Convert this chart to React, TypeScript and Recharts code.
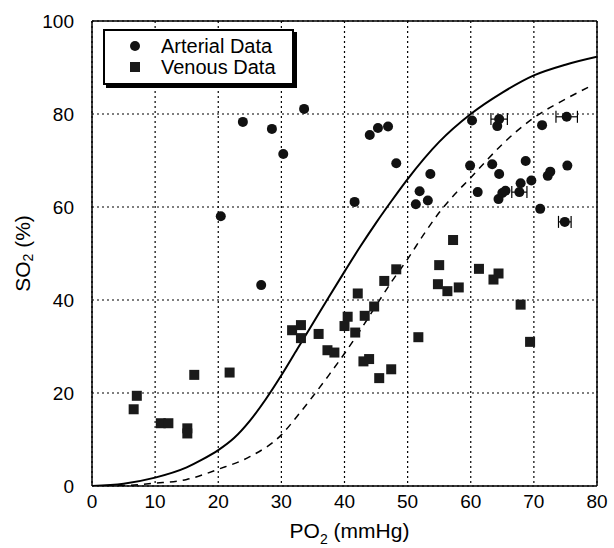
import React from "react";
import {
  ComposedChart,
  Scatter,
  Line,
  XAxis,
  YAxis,
  CartesianGrid,
  ReferenceLine,
  ErrorBar,
  Label,
} from "recharts";

const FONT = '"Liberation Sans", Arial, Helvetica, sans-serif';

// arterial samples (PO2 mmHg, SO2 %)
const arterialPO2 = [
  20.4, 23.9, 26.8, 28.5, 30.3, 33.6, 41.6, 44.0, 45.3, 46.9, 48.2, 51.3,
  51.9, 53.2, 53.6, 59.9, 60.2, 61.1, 63.4, 64.2, 64.5, 64.5, 64.4, 65.0,
  65.5, 67.7, 67.9, 68.7, 69.6, 71.0, 71.3, 72.2, 72.6, 74.9, 75.2, 75.3,
];
const arterialSO2 = [
  58.0, 78.3, 43.2, 76.8, 71.4, 81.1, 61.1, 75.5, 77.0, 77.3, 69.4, 60.6,
  63.4, 61.4, 67.1, 68.9, 78.6, 63.2, 69.2, 77.4, 78.9, 67.1, 61.7, 63.0,
  63.5, 63.2, 65.1, 69.9, 65.7, 59.6, 77.6, 66.7, 67.6, 56.8, 79.4, 68.9,
];
// horizontal error (mmHg), only a few points have one
const arterialErr = [
  null, null, null, null, null, null, null, null, null, null, null, null,
  null, null, null, null, null, null, null, null, 1.3, null, null, null,
  null, 1.2, null, null, null, null, null, null, null, 1.0, 1.7, null,
];

// venous samples
const venousPO2 = [
  6.6, 7.1, 10.9, 12.1, 15.1, 15.1, 16.2, 21.8, 31.7, 33.1, 33.1, 35.9, 37.3,
  38.4, 40.0, 40.5, 41.7, 42.1, 43.2, 43.0, 43.9, 44.7, 45.5, 46.3, 47.4,
  48.2, 51.7, 54.8, 55.0, 56.3, 57.2, 58.1, 61.3, 63.6, 64.4, 67.9, 69.4,
];
const venousSO2 = [
  16.5, 19.4, 13.5, 13.5, 12.4, 11.3, 23.9, 24.4, 33.5, 34.6, 31.8, 32.7, 29.2,
  28.7, 34.4, 36.4, 33.0, 41.4, 36.6, 26.8, 27.3, 38.6, 23.2, 44.1, 25.1,
  46.6, 32.0, 43.4, 47.5, 41.9, 52.9, 42.7, 46.7, 44.4, 45.7, 39.0, 31.0,
];

// solid dissociation curve
const solidPO2 = [0, 5, 10, 15, 17.5, 20, 22.5, 25, 27.5, 30, 32.5, 35, 37.5, 40, 42.5, 45, 47.5, 50, 55, 60, 65, 70, 75, 80];
const solidSO2 = [0, 0.5, 1.8, 4.0, 5.7, 7.7, 10.3, 14.0, 18.6, 23.8, 29.4, 35.0, 40.6, 46.1, 51.5, 56.6, 61.4, 66.0, 74.0, 80.0, 84.6, 88.3, 90.6, 92.3];

// dashed (shifted) curve
const dashedPO2 = [0, 5, 10, 15, 20, 25, 30, 32.5, 35, 37.5, 40, 42.5, 45, 47.5, 50, 52.5, 55, 57.5, 60, 62.5, 65, 70, 75, 79];
const dashedSO2 = [0, 0.1, 0.6, 1.4, 3.6, 6.3, 11.0, 15.0, 19.3, 23.8, 28.5, 33.5, 38.8, 44.0, 48.8, 54.0, 58.8, 62.8, 66.3, 70.0, 73.5, 79.2, 83.2, 86.0];

const xTicks = [0, 10, 20, 30, 40, 50, 60, 70, 80];
const yTicks = [0, 20, 40, 60, 80, 100];

const legendItems = [
  { name: "Arterial Data", marker: "circle" },
  { name: "Venous Data", marker: "square" },
];

const arterial = arterialPO2.map((x, i) => ({ x, y: arterialSO2[i], err: arterialErr[i] }));
const venous = venousPO2.map((x, i) => ({ x, y: venousSO2[i] }));
const solidCurve = solidPO2.map((x, i) => ({ x, y: solidSO2[i] }));
const dashedCurve = dashedPO2.map((x, i) => ({ x, y: dashedSO2[i] }));

const Dot = (props: any) => <circle cx={props.cx} cy={props.cy} r={5} fill="#111" />;
const Square = (props: any) => (
  <rect x={props.cx - 5} y={props.cy - 5} width={10} height={10} fill="#1a1a1a" />
);

const XLabel = (props: any) => {
  const vb = props.viewBox;
  const cx = vb.x + vb.width / 2 + 5;
  return (
    <text x={cx} y={vb.y + 52} textAnchor="middle" fontFamily={FONT} fontSize={21} fill="#000">
      PO
      <tspan fontSize={14} dy={6}>2</tspan>
      <tspan dy={-6}> (mmHg)</tspan>
    </text>
  );
};

const YLabel = (props: any) => {
  const vb = props.viewBox;
  const cx = 22;
  const cy = vb.y + vb.height / 2;
  return (
    <text
      x={cx}
      y={cy}
      transform={`rotate(-90 ${cx} ${cy})`}
      textAnchor="middle"
      dominantBaseline="central"
      fontFamily={FONT}
      fontSize={21}
      fill="#000"
    >
      SO
      <tspan fontSize={14} dy={6}>2</tspan>
      <tspan dy={-6}> (%)</tspan>
    </text>
  );
};

function ChartLegend() {
  return (
    <div
      style={{
        position: "absolute",
        left: 103,
        top: 29,
        width: 187,
        height: 52,
        border: "2px solid #000",
        boxShadow: "3px 3px 0 #000",
        background: "#fff",
        fontFamily: FONT,
        fontSize: 20,
        color: "#000",
      }}
    >
      {legendItems.map((item, i) => (
        <div
          key={item.name}
          style={{ position: "absolute", left: 0, top: 4 + i * 21, height: 22, display: "flex", alignItems: "center" }}
        >
          <svg width={56} height={22}>
            {item.marker === "circle" ? (
              <circle cx={30} cy={11} r={5} fill="#111" />
            ) : (
              <rect x={25} y={6} width={10} height={10} fill="#1a1a1a" />
            )}
          </svg>
          <span style={{ lineHeight: "22px" }}>{item.name}</span>
        </div>
      ))}
    </div>
  );
}

export default function App() {
  return (
    <div style={{ position: "absolute", left: 0, top: 0, width: 614, height: 548, background: "#fff" }}>
      <ComposedChart width={614} height={548} margin={{ top: 21, right: 17, bottom: 0, left: 0 }}>
        <CartesianGrid stroke="#000" strokeDasharray="2 3" strokeWidth={1.2} />
        <XAxis
          type="number"
          dataKey="x"
          domain={[0, 80]}
          ticks={xTicks}
          interval={0}
          height={62}
          tickLine={false}
          tickSize={0}
          tickMargin={9}
          axisLine={{ stroke: "#000", strokeWidth: 1.5 }}
          tick={{ fill: "#000", fontSize: 19, fontFamily: FONT }}
          allowDataOverflow
          label={<Label content={XLabel} />}
        />
        <YAxis
          type="number"
          dataKey="y"
          domain={[0, 100]}
          ticks={yTicks}
          interval={0}
          width={92}
          tickLine={false}
          tickSize={0}
          tickMargin={18}
          axisLine={{ stroke: "#000", strokeWidth: 1.5 }}
          tick={{ fill: "#000", fontSize: 19, fontFamily: FONT }}
          allowDataOverflow
          label={<Label content={YLabel} />}
        />
        <ReferenceLine x={80} stroke="#000" strokeWidth={1.5} />
        <ReferenceLine y={100} stroke="#000" strokeWidth={1.5} />
        <Line
          data={solidCurve}
          dataKey="y"
          type="monotone"
          stroke="#000"
          strokeWidth={2}
          dot={false}
          activeDot={false}
          isAnimationActive={false}
        />
        <Line
          data={dashedCurve}
          dataKey="y"
          type="monotone"
          stroke="#000"
          strokeWidth={1.5}
          strokeDasharray="7 6"
          dot={false}
          activeDot={false}
          isAnimationActive={false}
        />
        <Scatter data={venous} shape={Square} isAnimationActive={false} />
        <Scatter data={arterial} shape={Dot} isAnimationActive={false}>
          <ErrorBar dataKey="err" direction="x" width={6} stroke="#000" strokeWidth={1.2} />
        </Scatter>
      </ComposedChart>
      <ChartLegend />
    </div>
  );
}
